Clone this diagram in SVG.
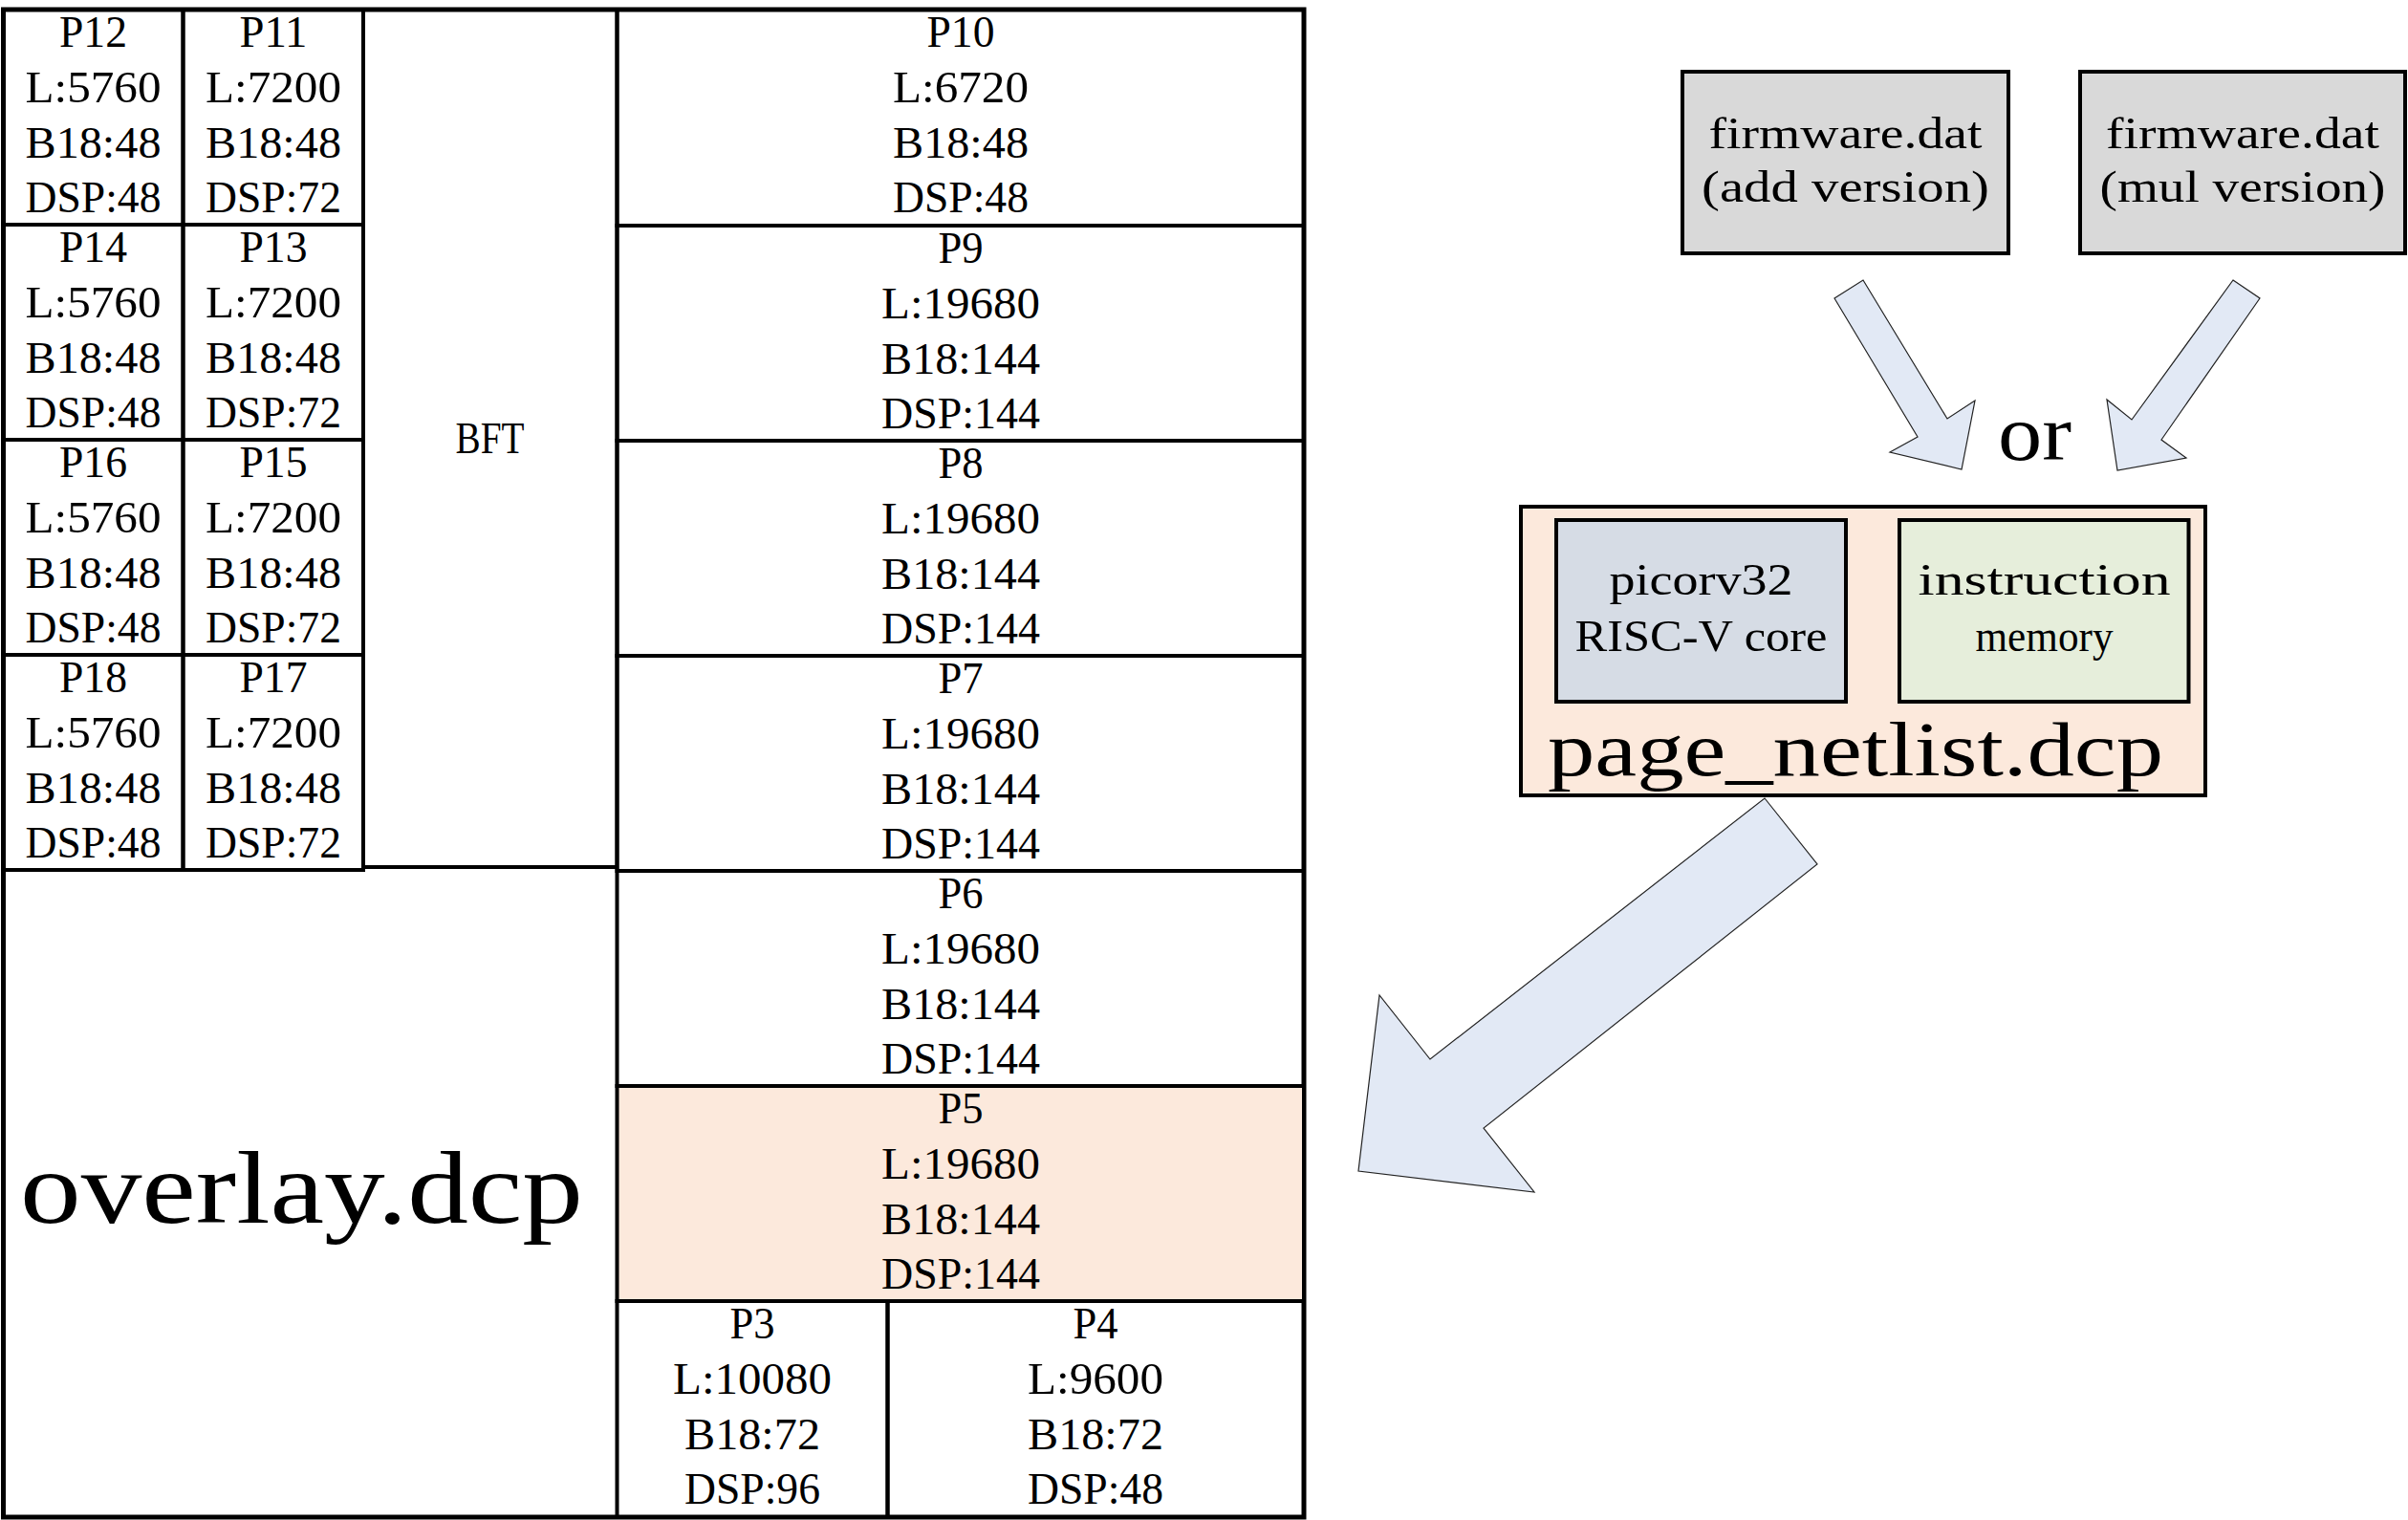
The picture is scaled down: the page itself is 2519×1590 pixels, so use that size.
<svg xmlns="http://www.w3.org/2000/svg" width="2519" height="1590" viewBox="0 0 2519 1590">
<style>
.t{font-family:"Liberation Serif","Times New Roman",serif;font-size:47px;text-anchor:middle;fill:#000}
.cell{fill:none;stroke:#000;stroke-width:4}
.box{stroke:#000;stroke-width:4}
.arr{fill:#e2e9f5;stroke:#222;stroke-width:1.2;stroke-linejoin:miter}
</style>
<rect x="0" y="0" width="2519" height="1590" fill="#fff"/>
<g id="overlay">
<rect x="3.5" y="10" width="1360.5" height="1577" fill="#fff" stroke="#000" stroke-width="5"/>
<text class="t" x="21" y="1279" style="font-size:108px;text-anchor:start" textLength="589" lengthAdjust="spacingAndGlyphs">overlay.dcp</text>
</g>
<g id="P5"><rect x="645.5" y="1136" width="718.5" height="225" fill="#fce9dc" stroke="#000" stroke-width="4"/>
<text class="t" x="1005" y="1175" textLength="47" lengthAdjust="spacingAndGlyphs">P5</text><text class="t" x="1005" y="1233" textLength="166" lengthAdjust="spacingAndGlyphs">L:19680</text><text class="t" x="1005" y="1291" textLength="166" lengthAdjust="spacingAndGlyphs">B18:144</text><text class="t" x="1005" y="1348" textLength="166" lengthAdjust="spacingAndGlyphs">DSP:144</text></g>
<g id="P12"><rect class="cell" x="3.5" y="10" width="188" height="225"/>
<text class="t" x="97.5" y="49" textLength="71" lengthAdjust="spacingAndGlyphs">P12</text><text class="t" x="97.5" y="107" textLength="142" lengthAdjust="spacingAndGlyphs">L:5760</text><text class="t" x="97.5" y="165" textLength="142" lengthAdjust="spacingAndGlyphs">B18:48</text><text class="t" x="97.5" y="222" textLength="142" lengthAdjust="spacingAndGlyphs">DSP:48</text></g>
<g id="P11"><rect class="cell" x="191.5" y="10" width="188.5" height="225"/>
<text class="t" x="286" y="49" textLength="71" lengthAdjust="spacingAndGlyphs">P11</text><text class="t" x="286" y="107" textLength="142" lengthAdjust="spacingAndGlyphs">L:7200</text><text class="t" x="286" y="165" textLength="142" lengthAdjust="spacingAndGlyphs">B18:48</text><text class="t" x="286" y="222" textLength="142" lengthAdjust="spacingAndGlyphs">DSP:72</text></g>
<g id="P14"><rect class="cell" x="3.5" y="235" width="188" height="225"/>
<text class="t" x="97.5" y="274" textLength="71" lengthAdjust="spacingAndGlyphs">P14</text><text class="t" x="97.5" y="332" textLength="142" lengthAdjust="spacingAndGlyphs">L:5760</text><text class="t" x="97.5" y="390" textLength="142" lengthAdjust="spacingAndGlyphs">B18:48</text><text class="t" x="97.5" y="447" textLength="142" lengthAdjust="spacingAndGlyphs">DSP:48</text></g>
<g id="P13"><rect class="cell" x="191.5" y="235" width="188.5" height="225"/>
<text class="t" x="286" y="274" textLength="71" lengthAdjust="spacingAndGlyphs">P13</text><text class="t" x="286" y="332" textLength="142" lengthAdjust="spacingAndGlyphs">L:7200</text><text class="t" x="286" y="390" textLength="142" lengthAdjust="spacingAndGlyphs">B18:48</text><text class="t" x="286" y="447" textLength="142" lengthAdjust="spacingAndGlyphs">DSP:72</text></g>
<g id="P16"><rect class="cell" x="3.5" y="460" width="188" height="225"/>
<text class="t" x="97.5" y="499" textLength="71" lengthAdjust="spacingAndGlyphs">P16</text><text class="t" x="97.5" y="557" textLength="142" lengthAdjust="spacingAndGlyphs">L:5760</text><text class="t" x="97.5" y="615" textLength="142" lengthAdjust="spacingAndGlyphs">B18:48</text><text class="t" x="97.5" y="672" textLength="142" lengthAdjust="spacingAndGlyphs">DSP:48</text></g>
<g id="P15"><rect class="cell" x="191.5" y="460" width="188.5" height="225"/>
<text class="t" x="286" y="499" textLength="71" lengthAdjust="spacingAndGlyphs">P15</text><text class="t" x="286" y="557" textLength="142" lengthAdjust="spacingAndGlyphs">L:7200</text><text class="t" x="286" y="615" textLength="142" lengthAdjust="spacingAndGlyphs">B18:48</text><text class="t" x="286" y="672" textLength="142" lengthAdjust="spacingAndGlyphs">DSP:72</text></g>
<g id="P18"><rect class="cell" x="3.5" y="685" width="188" height="225"/>
<text class="t" x="97.5" y="724" textLength="71" lengthAdjust="spacingAndGlyphs">P18</text><text class="t" x="97.5" y="782" textLength="142" lengthAdjust="spacingAndGlyphs">L:5760</text><text class="t" x="97.5" y="840" textLength="142" lengthAdjust="spacingAndGlyphs">B18:48</text><text class="t" x="97.5" y="897" textLength="142" lengthAdjust="spacingAndGlyphs">DSP:48</text></g>
<g id="P17"><rect class="cell" x="191.5" y="685" width="188.5" height="225"/>
<text class="t" x="286" y="724" textLength="71" lengthAdjust="spacingAndGlyphs">P17</text><text class="t" x="286" y="782" textLength="142" lengthAdjust="spacingAndGlyphs">L:7200</text><text class="t" x="286" y="840" textLength="142" lengthAdjust="spacingAndGlyphs">B18:48</text><text class="t" x="286" y="897" textLength="142" lengthAdjust="spacingAndGlyphs">DSP:72</text></g>
<g id="BFT"><rect class="cell" x="380" y="10" width="265.5" height="897"/>
<text class="t" x="512.5" y="474" textLength="72" lengthAdjust="spacingAndGlyphs">BFT</text></g>
<g id="P10"><rect class="cell" x="645.5" y="10" width="718.5" height="226"/>
<text class="t" x="1005" y="49" textLength="71" lengthAdjust="spacingAndGlyphs">P10</text><text class="t" x="1005" y="107" textLength="142" lengthAdjust="spacingAndGlyphs">L:6720</text><text class="t" x="1005" y="165" textLength="142" lengthAdjust="spacingAndGlyphs">B18:48</text><text class="t" x="1005" y="222" textLength="142" lengthAdjust="spacingAndGlyphs">DSP:48</text></g>
<g id="P9"><rect class="cell" x="645.5" y="236" width="718.5" height="225"/>
<text class="t" x="1005" y="275" textLength="47" lengthAdjust="spacingAndGlyphs">P9</text><text class="t" x="1005" y="333" textLength="166" lengthAdjust="spacingAndGlyphs">L:19680</text><text class="t" x="1005" y="391" textLength="166" lengthAdjust="spacingAndGlyphs">B18:144</text><text class="t" x="1005" y="448" textLength="166" lengthAdjust="spacingAndGlyphs">DSP:144</text></g>
<g id="P8"><rect class="cell" x="645.5" y="461" width="718.5" height="225"/>
<text class="t" x="1005" y="500" textLength="47" lengthAdjust="spacingAndGlyphs">P8</text><text class="t" x="1005" y="558" textLength="166" lengthAdjust="spacingAndGlyphs">L:19680</text><text class="t" x="1005" y="616" textLength="166" lengthAdjust="spacingAndGlyphs">B18:144</text><text class="t" x="1005" y="673" textLength="166" lengthAdjust="spacingAndGlyphs">DSP:144</text></g>
<g id="P7"><rect class="cell" x="645.5" y="686" width="718.5" height="225"/>
<text class="t" x="1005" y="725" textLength="47" lengthAdjust="spacingAndGlyphs">P7</text><text class="t" x="1005" y="783" textLength="166" lengthAdjust="spacingAndGlyphs">L:19680</text><text class="t" x="1005" y="841" textLength="166" lengthAdjust="spacingAndGlyphs">B18:144</text><text class="t" x="1005" y="898" textLength="166" lengthAdjust="spacingAndGlyphs">DSP:144</text></g>
<g id="P6"><rect class="cell" x="645.5" y="911" width="718.5" height="225"/>
<text class="t" x="1005" y="950" textLength="47" lengthAdjust="spacingAndGlyphs">P6</text><text class="t" x="1005" y="1008" textLength="166" lengthAdjust="spacingAndGlyphs">L:19680</text><text class="t" x="1005" y="1066" textLength="166" lengthAdjust="spacingAndGlyphs">B18:144</text><text class="t" x="1005" y="1123" textLength="166" lengthAdjust="spacingAndGlyphs">DSP:144</text></g>
<g id="P3"><rect class="cell" x="645.5" y="1361" width="283" height="226"/>
<text class="t" x="787" y="1400" textLength="47" lengthAdjust="spacingAndGlyphs">P3</text><text class="t" x="787" y="1458" textLength="166" lengthAdjust="spacingAndGlyphs">L:10080</text><text class="t" x="787" y="1516" textLength="142" lengthAdjust="spacingAndGlyphs">B18:72</text><text class="t" x="787" y="1573" textLength="142" lengthAdjust="spacingAndGlyphs">DSP:96</text></g>
<g id="P4"><rect class="cell" x="928.5" y="1361" width="435.5" height="226"/>
<text class="t" x="1146" y="1400" textLength="47" lengthAdjust="spacingAndGlyphs">P4</text><text class="t" x="1146" y="1458" textLength="142" lengthAdjust="spacingAndGlyphs">L:9600</text><text class="t" x="1146" y="1516" textLength="142" lengthAdjust="spacingAndGlyphs">B18:72</text><text class="t" x="1146" y="1573" textLength="142" lengthAdjust="spacingAndGlyphs">DSP:48</text></g>
<g id="firmware_add"><rect class="box" x="1760" y="75" width="341" height="190" fill="#d9d9d9"/>
<text class="t" x="1930.5" y="155" textLength="286" lengthAdjust="spacingAndGlyphs">firmware.dat</text><text class="t" x="1930.5" y="211" textLength="301" lengthAdjust="spacingAndGlyphs">(add version)</text></g>
<g id="firmware_mul"><rect class="box" x="2176" y="75" width="340" height="190" fill="#d9d9d9"/>
<text class="t" x="2346" y="155" textLength="286" lengthAdjust="spacingAndGlyphs">firmware.dat</text><text class="t" x="2346" y="211" textLength="299" lengthAdjust="spacingAndGlyphs">(mul version)</text></g>
<g id="or_label"><text class="t" x="2128.5" y="481" style="font-size:82px" textLength="77" lengthAdjust="spacingAndGlyphs">or</text></g>
<g id="page_netlist"><rect class="box" x="1591" y="530" width="716" height="302" fill="#fce9dc"/>
<text class="t" x="1941" y="811" style="font-size:80px" textLength="644" lengthAdjust="spacingAndGlyphs">page_netlist.dcp</text></g>
<g id="picorv32"><rect class="box" x="1628" y="544" width="303" height="190" fill="#d6dce5"/>
<text class="t" x="1779.5" y="622" textLength="192" lengthAdjust="spacingAndGlyphs">picorv32</text><text class="t" x="1779.5" y="681" textLength="264" lengthAdjust="spacingAndGlyphs">RISC-V core</text></g>
<g id="instruction_memory"><rect class="box" x="1987" y="544" width="302.5" height="190" fill="#e6eedb"/>
<text class="t" x="2138.5" y="622" textLength="264" lengthAdjust="spacingAndGlyphs">instruction</text><text class="t" x="2138.5" y="681" textLength="144" lengthAdjust="spacingAndGlyphs">memory</text></g>
<g id="connectors">
<polygon class="arr" points="1919,312 1949,293 2037,438 2066,419 2052,491 1977,473 2006,457"/>
<polygon class="arr" points="2336,293 2364,312 2261,460 2287,479 2215,492 2204,418 2230,439"/>
<polygon class="arr" points="1846,835 1901,904 1552,1180 1605,1247 1421,1225 1443,1041 1496,1108"/>
</g>
</svg>
